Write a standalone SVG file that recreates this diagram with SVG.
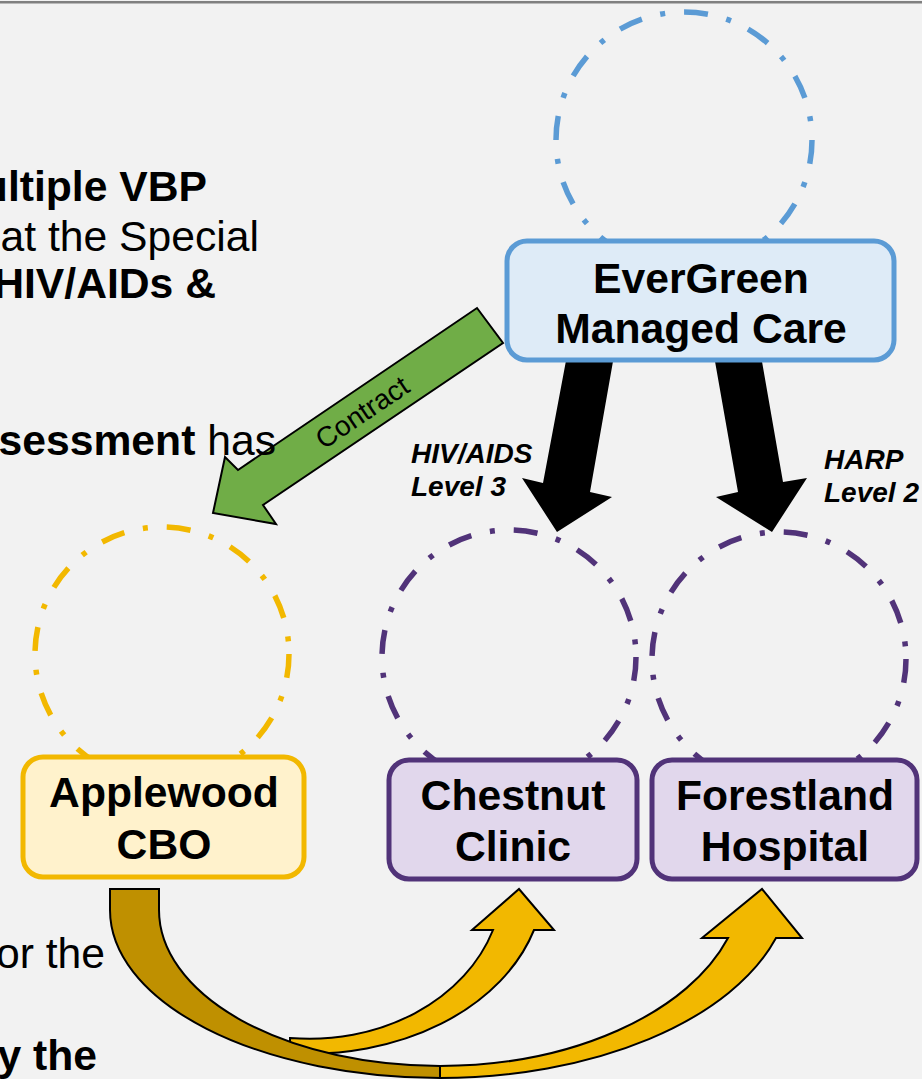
<svg xmlns="http://www.w3.org/2000/svg" width="922" height="1079" viewBox="0 0 922 1079">
<style>
.ring{fill:none;stroke-width:5.5;stroke-dasharray:24 19 5 19}
.node{stroke-width:5}
.nt{font-family:"Liberation Sans",Arial,sans-serif;font-weight:bold;font-size:42.67px;text-anchor:middle;fill:#000}
.body{font-family:"Liberation Sans",Arial,sans-serif;font-size:42.67px;fill:#000}
.b{font-weight:bold}
.lbl{font-family:"Liberation Sans",Arial,sans-serif;font-size:28px;font-weight:bold;font-style:italic;fill:#000}
.edge{stroke:#000;stroke-width:2;stroke-linejoin:miter}
.gold{fill:#f2b800}
.dgold{fill:#bf9000}
</style>
<rect x="0" y="0" width="922" height="1079" fill="#f2f2f2"/>
<rect x="0" y="1" width="922" height="2.5" fill="#808080"/>

<g id="body-text">
<text class="body b" x="207" y="201" text-anchor="end">ultiple VBP</text>
<text class="body" x="259" y="251" text-anchor="end">at the Special</text>
<text class="body b" x="216" y="298" text-anchor="end">HIV/AIDs &amp;</text>
<text class="body" x="105" y="968" text-anchor="end">or the</text>
<text class="body b" x="97" y="1070" text-anchor="end">y the</text>
</g>

<g id="rings">
<circle class="ring" cx="684" cy="140" r="128" stroke="#5b9bd5"/>
<circle class="ring" cx="162" cy="654" r="127" stroke="#f2b800"/>
<circle class="ring" cx="509" cy="657" r="127" stroke="#513379"/>
<circle class="ring" cx="779" cy="659" r="127" stroke="#513379"/>
</g>

<g id="connectors">
<polygon id="arrow-hiv" points="568,350 615,350 590,492 612,497 557,532 522,478 543,483" fill="#000"/>
<polygon id="arrow-harp" points="713,350 760,350 783,482 807,478 772,532 716,497 738,492" fill="#000"/>
<g id="arrow-contract">
<polygon class="edge" points="477,308 503,343 263,505 276,524 213,513 225,457 238,470" fill="#70ad47"/>
<text transform="translate(362,412) rotate(-34)" x="0" y="10" font-family="Liberation Sans, Arial, sans-serif" font-size="28" text-anchor="middle" fill="#000">Contract</text>
</g>
<path id="arrow-to-chestnut" class="edge gold" d="M290,1038 A193,158 0 0 0 493,930 L472,930 L519,889 L554,930 L534,930 A234,174 0 0 1 290,1053 Z"/>
<path id="arrow-to-forestland-back" class="edge dgold" d="M110,889 L159,889 L159,910 A281,156 0 0 0 440,1066 L440,1078 A330,168 0 0 1 110,910 Z"/>
<path id="arrow-to-forestland" class="edge gold" d="M440,1066 A304,186 0 0 0 728,938 L702,938 L762,889 L802,938 L776,938 A352,198 0 0 1 440,1078 Z"/>
<text class="lbl" x="411" y="463">HIV/AIDS</text>
<text class="lbl" x="411" y="496">Level 3</text>
<text class="lbl" x="824" y="469">HARP</text>
<text class="lbl" x="824" y="502">Level 2</text>
</g>

<text class="body" x="276" y="455" text-anchor="end"><tspan font-weight="bold">sessment</tspan> has</text>

<g id="evergreen">
<rect class="node" x="507" y="241" width="387" height="119" rx="20" fill="#deebf7" stroke="#5b9bd5"/>
<text class="nt" x="701" y="293">EverGreen</text>
<text class="nt" x="701" y="343">Managed Care</text>
</g>
<g id="applewood">
<rect class="node" x="23" y="757" width="281" height="120" rx="20" fill="#fff2cc" stroke="#f2b800"/>
<text class="nt" x="164" y="807">Applewood</text>
<text class="nt" x="164" y="859">CBO</text>
</g>
<g id="chestnut">
<rect class="node" x="389" y="760" width="248" height="119" rx="20" fill="#e1d7ec" stroke="#513379"/>
<text class="nt" x="513" y="810">Chestnut</text>
<text class="nt" x="513" y="861">Clinic</text>
</g>
<g id="forestland">
<rect class="node" x="652" y="760" width="265" height="119" rx="20" fill="#e1d7ec" stroke="#513379"/>
<text class="nt" x="785" y="810">Forestland</text>
<text class="nt" x="785" y="861">Hospital</text>
</g>
</svg>
